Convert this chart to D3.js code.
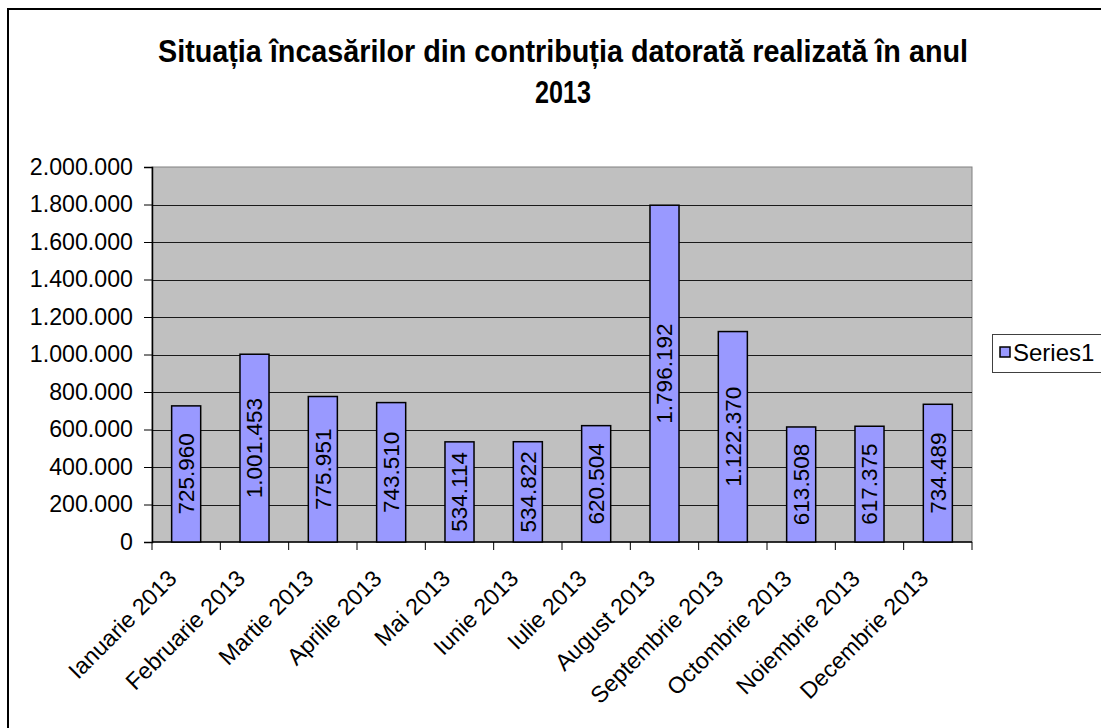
<!DOCTYPE html>
<html>
<head>
<meta charset="utf-8">
<script src="https://cdn.jsdelivr.net/npm/d3@7"></script>
<style>
  body { margin: 0; background: #fff; }
  text { font-family: "Liberation Sans", Arial, sans-serif; }
</style>
</head>
<body>
<div id="chart"></div>
<script>
// chart data
var months = ['Ianuarie 2013', 'Februarie 2013', 'Martie 2013', 'Aprilie 2013', 'Mai 2013', 'Iunie 2013',
    'Iulie 2013', 'August 2013', 'Septembrie 2013', 'Octombrie 2013', 'Noiembrie 2013', 'Decembrie 2013'];
var values = [725960, 1001453, 775951, 743510, 534114, 534822, 620504, 1796192, 1122370, 613508, 617375, 734489];
var yTicks = [0, 200000, 400000, 600000, 800000, 1000000, 1200000, 1400000, 1600000, 1800000, 2000000];
var seriesName = 'Series1';
var titleLines = ['Situația încasărilor din contribuția datorată realizată în anul', '2013'];

var W = 1101, H = 728;
var plot = {left: 152, top: 167, right: 972, bottom: 542};

var ro = d3.formatLocale({decimal: ',', thousands: '.', grouping: [3], currency: ['', '']});
var fmt = ro.format(',d');

var svg = d3.select('#chart')
    .append('svg')
    .attr('width', W)
    .attr('height', H);

// outer chart border (runs off the right / bottom of the picture)
svg.append('rect')
    .attr('x', 8)
    .attr('y', 9)
    .attr('width', 1200)
    .attr('height', 800)
    .style('fill', '#fff')
    .style('stroke', '#000')
    .style('stroke-width', 2);

var x = d3.scaleBand()
    .domain(months)
    .range([plot.left, plot.right])
    .paddingInner(0.575)
    .paddingOuter(0.2875);

var y = d3.scaleLinear()
    .domain([0, 2000000])
    .range([plot.bottom, plot.top]);

// plot area
svg.append('rect')
    .attr('x', plot.left)
    .attr('y', plot.top)
    .attr('width', plot.right - plot.left)
    .attr('height', plot.bottom - plot.top)
    .style('fill', '#c0c0c0')
    .style('stroke', '#808080')
    .style('stroke-width', 1);

// gridlines
svg.append('g')
    .selectAll('line')
    .data(yTicks.slice(1, -1))
    .enter()
    .append('line')
    .attr('x1', plot.left)
    .attr('x2', plot.right)
    .attr('y1', function(d) { return Math.round(y(d)) + 0.5; })
    .attr('y2', function(d) { return Math.round(y(d)) + 0.5; })
    .style('stroke', '#1a1a1a')
    .style('stroke-width', 1);

// y axis
var yAxis = svg.append('g')
    .attr('transform', 'translate(' + plot.left + ',0)')
    .call(d3.axisLeft(y).tickValues(yTicks).tickFormat(fmt).tickSize(8).tickPadding(11));
yAxis.select('.domain').style('stroke', '#000').style('stroke-width', 1.5);
yAxis.selectAll('.tick line').style('stroke', '#000');
yAxis.selectAll('.tick text')
    .style('font-size', '23.2px')
    .style('font-family', '"Liberation Sans", Arial, sans-serif')
    .style('fill', '#000');

// x axis: ticks on category boundaries, like Excel
var xAxis = svg.append('g');
xAxis.append('line')
    .attr('x1', plot.left)
    .attr('x2', plot.right)
    .attr('y1', plot.bottom)
    .attr('y2', plot.bottom)
    .style('stroke', '#000')
    .style('stroke-width', 1.5);
var step = x.step();
xAxis.selectAll('.xt')
    .data(d3.range(months.length + 1))
    .enter()
    .append('line')
    .attr('x1', function(i) { return plot.left + i * step; })
    .attr('x2', function(i) { return plot.left + i * step; })
    .attr('y1', plot.bottom)
    .attr('y2', plot.bottom + 8)
    .style('stroke', '#000');
xAxis.selectAll('.xl')
    .data(months)
    .enter()
    .append('text')
    .attr('transform', function(d) {
        return 'translate(' + (x(d) + x.bandwidth() / 2 - 8) + ',' + 580 + ') rotate(-45)';
    })
    .attr('text-anchor', 'end')
    .style('font-size', '23.2px')
    .text(function(d) { return d; });

// bars
svg.append('g')
    .selectAll('rect')
    .data(values)
    .enter()
    .append('rect')
    .attr('x', function(d, i) { return x(months[i]); })
    .attr('y', function(d) { return y(d); })
    .attr('width', x.bandwidth())
    .attr('height', function(d) { return y(0) - y(d); })
    .style('fill', '#9999ff')
    .style('stroke', '#000')
    .style('stroke-width', 1.5);

// data labels, vertical, centred in each bar
svg.append('g')
    .selectAll('text')
    .data(values)
    .enter()
    .append('text')
    .attr('transform', function(d, i) {
        var cx = x(months[i]) + x.bandwidth() / 2;
        var cy = (y(d) + y(0)) / 2;
        return 'translate(' + cx + ',' + cy + ') rotate(-90)';
    })
    .attr('text-anchor', 'middle')
    .attr('dy', '0.35em')
    .style('font-size', '22.5px')
    .text(function(d) { return fmt(d); });

// title
svg.append('text')
    .attr('x', 563)
    .attr('y', 62)
    .attr('text-anchor', 'middle')
    .attr('textLength', 810)
    .attr('lengthAdjust', 'spacingAndGlyphs')
    .style('font-size', '32px')
    .style('font-weight', 'bold')
    .text(titleLines[0]);
svg.append('text')
    .attr('x', 563)
    .attr('y', 103)
    .attr('text-anchor', 'middle')
    .attr('textLength', 56)
    .attr('lengthAdjust', 'spacingAndGlyphs')
    .style('font-size', '32px')
    .style('font-weight', 'bold')
    .text(titleLines[1]);

// legend
var lg = svg.append('g');
lg.append('rect')
    .attr('x', 992.5)
    .attr('y', 334.5)
    .attr('width', 140)
    .attr('height', 38)
    .style('fill', '#fff')
    .style('stroke', '#404040')
    .style('stroke-width', 1);
lg.append('rect')
    .attr('x', 1000)
    .attr('y', 347)
    .attr('width', 10)
    .attr('height', 10)
    .style('fill', '#9999ff')
    .style('stroke', '#000')
    .style('stroke-width', 1.5);
lg.append('text')
    .attr('x', 1013)
    .attr('y', 353)
    .attr('dy', '0.35em')
    .style('font-size', '24px')
    .text(seriesName);
</script>
</body>
</html>
